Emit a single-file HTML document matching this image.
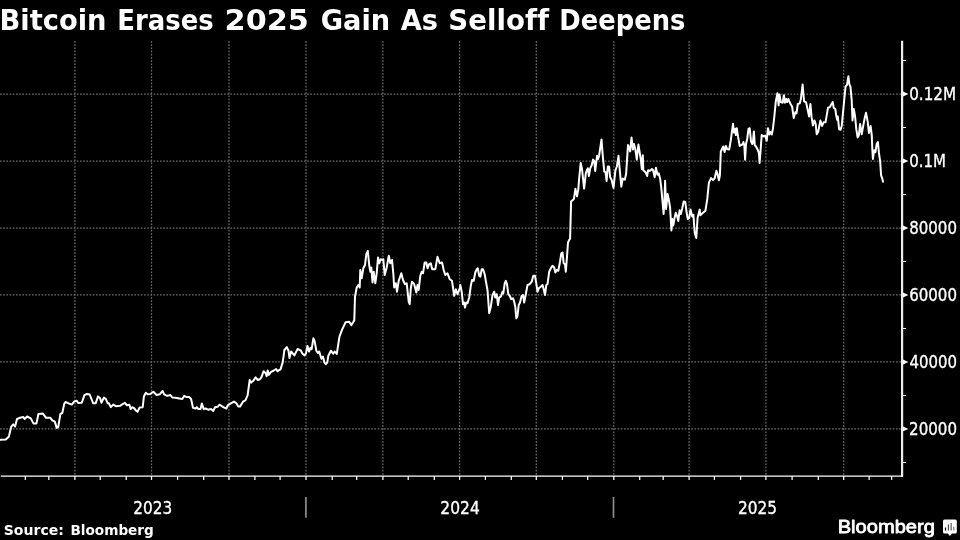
<!DOCTYPE html>
<html lang="en">
<head>
<meta charset="utf-8">
<title>Bitcoin Erases 2025 Gain As Selloff Deepens</title>
<style>
html,body{margin:0;padding:0;background:#000;}
body{width:960px;height:540px;overflow:hidden;}
svg{display:block;font-variant-ligatures:none;font-kerning:none;}
</style>
</head>
<body>
<svg width="960" height="540" viewBox="0 0 960 540">
<rect width="960" height="540" fill="#000"/>
<g stroke="#6c6c6c" stroke-width="1.25" stroke-dasharray="1.7 1.5" fill="none">
<line x1="74.9" y1="41" x2="74.9" y2="476"/>
<line x1="151.5" y1="41" x2="151.5" y2="476"/>
<line x1="229.0" y1="41" x2="229.0" y2="476"/>
<line x1="306.0" y1="41" x2="306.0" y2="476"/>
<line x1="382.9" y1="41" x2="382.9" y2="476"/>
<line x1="459.6" y1="41" x2="459.6" y2="476"/>
<line x1="536.3" y1="41" x2="536.3" y2="476"/>
<line x1="613.8" y1="41" x2="613.8" y2="476"/>
<line x1="689.1" y1="41" x2="689.1" y2="476"/>
<line x1="765.9" y1="41" x2="765.9" y2="476"/>
<line x1="843.7" y1="41" x2="843.7" y2="476"/>
<line x1="0" y1="94.05" x2="902" y2="94.05"/>
<line x1="0" y1="161.03" x2="902" y2="161.03"/>
<line x1="0" y1="228.01" x2="902" y2="228.01"/>
<line x1="0" y1="294.99" x2="902" y2="294.99"/>
<line x1="0" y1="361.97" x2="902" y2="361.97"/>
<line x1="0" y1="428.95" x2="902" y2="428.95"/>
</g>
<g stroke="#fff" fill="none">
<line x1="902.1" y1="40.8" x2="902.1" y2="476.8" stroke-width="2.2" stroke="#ececec"/>
<line x1="0.8" y1="476.2" x2="903" y2="476.2" stroke-width="1.3"/>
<line x1="25.3" y1="476" x2="25.3" y2="479.9" stroke-width="1.25"/>
<line x1="48.8" y1="476" x2="48.8" y2="479.9" stroke-width="1.25"/>
<line x1="74.9" y1="476" x2="74.9" y2="479.9" stroke-width="1.25"/>
<line x1="100.2" y1="476" x2="100.2" y2="479.9" stroke-width="1.25"/>
<line x1="126.2" y1="476" x2="126.2" y2="479.9" stroke-width="1.25"/>
<line x1="151.5" y1="476" x2="151.5" y2="479.9" stroke-width="1.25"/>
<line x1="177.6" y1="476" x2="177.6" y2="479.9" stroke-width="1.25"/>
<line x1="203.7" y1="476" x2="203.7" y2="479.9" stroke-width="1.25"/>
<line x1="229.0" y1="476" x2="229.0" y2="479.9" stroke-width="1.25"/>
<line x1="254.9" y1="476" x2="254.9" y2="479.9" stroke-width="1.25"/>
<line x1="280.1" y1="476" x2="280.1" y2="479.9" stroke-width="1.25"/>
<line x1="306.0" y1="476" x2="306.0" y2="479.9" stroke-width="1.25"/>
<line x1="332.2" y1="476" x2="332.2" y2="479.9" stroke-width="1.25"/>
<line x1="356.7" y1="476" x2="356.7" y2="479.9" stroke-width="1.25"/>
<line x1="382.9" y1="476" x2="382.9" y2="479.9" stroke-width="1.25"/>
<line x1="408.2" y1="476" x2="408.2" y2="479.9" stroke-width="1.25"/>
<line x1="434.3" y1="476" x2="434.3" y2="479.9" stroke-width="1.25"/>
<line x1="459.6" y1="476" x2="459.6" y2="479.9" stroke-width="1.25"/>
<line x1="485.4" y1="476" x2="485.4" y2="479.9" stroke-width="1.25"/>
<line x1="511.3" y1="476" x2="511.3" y2="479.9" stroke-width="1.25"/>
<line x1="536.3" y1="476" x2="536.3" y2="479.9" stroke-width="1.25"/>
<line x1="562.4" y1="476" x2="562.4" y2="479.9" stroke-width="1.25"/>
<line x1="587.7" y1="476" x2="587.7" y2="479.9" stroke-width="1.25"/>
<line x1="613.8" y1="476" x2="613.8" y2="479.9" stroke-width="1.25"/>
<line x1="639.7" y1="476" x2="639.7" y2="479.9" stroke-width="1.25"/>
<line x1="663.2" y1="476" x2="663.2" y2="479.9" stroke-width="1.25"/>
<line x1="689.1" y1="476" x2="689.1" y2="479.9" stroke-width="1.25"/>
<line x1="714.4" y1="476" x2="714.4" y2="479.9" stroke-width="1.25"/>
<line x1="740.6" y1="476" x2="740.6" y2="479.9" stroke-width="1.25"/>
<line x1="765.9" y1="476" x2="765.9" y2="479.9" stroke-width="1.25"/>
<line x1="792.1" y1="476" x2="792.1" y2="479.9" stroke-width="1.25"/>
<line x1="818.3" y1="476" x2="818.3" y2="479.9" stroke-width="1.25"/>
<line x1="843.7" y1="476" x2="843.7" y2="479.9" stroke-width="1.25"/>
<line x1="869.1" y1="476" x2="869.1" y2="479.9" stroke-width="1.25"/>
<line x1="891.6" y1="476" x2="891.6" y2="479.9" stroke-width="1.25"/>
<line x1="903" y1="60.56" x2="906" y2="60.56" stroke-width="1"/>
<line x1="903" y1="127.54" x2="906" y2="127.54" stroke-width="1"/>
<line x1="903" y1="194.52" x2="906" y2="194.52" stroke-width="1"/>
<line x1="903" y1="261.5" x2="906" y2="261.5" stroke-width="1"/>
<line x1="903" y1="328.48" x2="906" y2="328.48" stroke-width="1"/>
<line x1="903" y1="395.46" x2="906" y2="395.46" stroke-width="1"/>
<line x1="903" y1="462.44" x2="906" y2="462.44" stroke-width="1"/>
</g>
<path d="M903,91.6 L908.4,94.05 L903,96.5 Z" fill="#fff"/>
<path d="M903,158.6 L908.4,161.03 L903,163.4 Z" fill="#fff"/>
<path d="M903,225.6 L908.4,228.01 L903,230.4 Z" fill="#fff"/>
<path d="M903,292.6 L908.4,294.99 L903,297.4 Z" fill="#fff"/>
<path d="M903,359.6 L908.4,361.97 L903,364.4 Z" fill="#fff"/>
<path d="M903,426.6 L908.4,428.95 L903,431.3 Z" fill="#fff"/>
<g stroke="#8c8c8c" stroke-width="1.7">
<line x1="305.9" y1="497" x2="305.9" y2="517.8"/>
<line x1="613.5" y1="497" x2="613.5" y2="517.8"/>
</g>
<path d="M0.0,439.8 L5.7,439.4 L8.8,436.7 L11.3,426.6 L13.2,424.3 L15.1,426.6 L17.0,419.0 L20.1,417.8 L23.3,417.1 L24.6,419.0 L27.1,416.5 L30.8,418.4 L33.4,423.4 L36.5,423.4 L38.4,414.0 L42.8,413.4 L46.0,417.8 L50.4,417.8 L52.3,420.3 L54.8,421.6 L56.7,427.9 L58.2,427.2 L60.4,414.0 L62.3,413.0 L64.2,403.9 L65.5,402.0 L68.6,403.3 L71.8,404.6 L74.3,401.4 L76.8,400.8 L78.1,402.9 L81.8,402.7 L84.4,395.1 L86.9,393.9 L89.7,394.5 L93.2,403.3 L95.7,403.3 L98.0,396.4 L100.1,398.3 L101.4,402.7 L103.9,397.6 L105.8,398.9 L107.7,403.3 L108.9,403.3 L110.8,407.1 L113.3,404.6 L115.8,406.2 L120.0,405.8 L122.5,404.1 L125.0,402.8 L126.9,405.3 L129.4,404.7 L130.7,409.1 L132.0,407.2 L134.5,408.5 L135.7,410.4 L137.6,411.6 L139.5,407.6 L142.7,407.2 L143.9,396.5 L145.8,392.7 L147.7,394.3 L150.2,394.0 L153.4,391.7 L156.5,395.0 L159.7,394.3 L162.6,390.9 L164.1,394.3 L167.2,395.9 L170.4,395.0 L172.3,397.5 L175.4,397.8 L179.2,398.4 L182.3,399.0 L184.2,395.9 L186.7,397.1 L189.3,397.1 L191.1,399.0 L193.0,407.9 L195.6,408.5 L196.8,407.2 L198.1,408.9 L200.6,408.9 L201.8,403.4 L203.7,409.1 L205.6,408.5 L208.1,409.7 L211.3,409.1 L213.2,411.0 L215.1,407.2 L217.6,406.8 L219.5,404.7 L223.3,407.2 L226.4,408.5 L227.7,405.3 L230.8,403.4 L234.0,401.6 L236.5,403.4 L238.4,406.6 L240.0,406.6 L243.3,401.3 L245.4,400.3 L247.6,395.3 L249.7,380.0 L251.2,382.6 L253.4,380.7 L255.6,377.3 L257.8,380.0 L260.0,379.2 L261.5,377.1 L263.6,371.2 L265.8,373.4 L266.6,376.3 L267.7,370.5 L268.8,374.9 L271.0,371.9 L273.9,370.5 L276.1,369.0 L277.5,371.2 L280.5,369.4 L282.7,362.4 L284.4,350.0 L286.8,347.1 L288.5,350.7 L289.5,358.0 L291.1,351.5 L294.4,355.4 L297.6,349.0 L301.0,350.7 L302.4,353.6 L304.6,355.4 L306.1,352.9 L307.5,346.0 L309.0,351.5 L310.5,347.8 L311.6,349.3 L313.4,338.3 L314.8,341.9 L316.3,350.7 L317.8,352.9 L319.2,351.5 L321.4,358.8 L322.9,356.6 L324.4,362.4 L325.8,364.2 L327.3,362.4 L328.3,355.8 L330.9,350.7 L333.1,353.6 L334.6,351.5 L336.8,353.9 L339.4,336.8 L341.9,330.2 L345.6,322.2 L349.2,321.8 L351.4,325.1 L353.6,321.5 L354.3,320.0 L355.0,296.7 L356.7,287.5 L358.3,285.0 L359.7,287.5 L360.3,270.0 L361.7,278.3 L363.3,268.3 L365.0,265.0 L366.3,254.2 L367.8,250.8 L369.2,265.0 L370.3,271.7 L371.3,267.5 L372.5,282.5 L373.7,271.7 L375.3,283.3 L376.7,273.3 L378.0,257.5 L379.2,263.3 L380.8,259.2 L382.2,260.0 L383.3,259.2 L384.7,275.0 L386.7,267.5 L388.8,255.8 L390.3,263.3 L392.0,260.0 L393.3,273.3 L394.2,287.5 L395.8,283.3 L397.0,291.7 L398.7,280.8 L401.3,273.3 L403.0,280.0 L405.0,284.2 L406.7,283.3 L408.7,301.7 L409.7,304.2 L410.8,288.3 L412.0,281.7 L414.2,284.2 L416.3,292.5 L417.5,285.0 L418.7,290.0 L420.3,275.8 L421.7,271.7 L423.0,273.3 L424.7,262.5 L426.3,262.5 L427.5,268.3 L429.2,264.2 L430.8,263.3 L432.2,269.2 L435.3,269.2 L437.5,256.7 L439.7,263.3 L442.0,262.5 L443.7,270.0 L445.3,275.0 L447.5,273.3 L449.7,279.2 L452.0,280.8 L454.2,295.8 L455.8,289.2 L457.5,294.2 L460.0,287.5 L460.3,285.0 L461.7,291.7 L463.0,304.2 L464.2,302.5 L465.0,307.5 L466.2,302.5 L467.5,303.3 L469.2,297.5 L470.8,285.8 L472.0,280.0 L473.7,280.8 L475.3,272.5 L476.7,269.2 L477.8,268.3 L479.2,275.8 L480.3,276.7 L481.7,269.2 L483.0,269.2 L484.7,274.2 L485.8,280.8 L487.5,290.0 L489.2,313.3 L490.8,306.7 L492.5,295.0 L494.2,291.7 L495.3,297.5 L496.7,294.2 L498.0,305.0 L499.2,297.5 L500.8,296.7 L502.5,291.7 L503.3,293.3 L504.7,283.3 L505.8,280.8 L507.0,284.2 L508.3,294.2 L509.7,295.8 L511.3,299.2 L513.0,298.3 L514.2,301.7 L515.3,306.7 L516.3,318.3 L517.5,315.8 L518.7,305.0 L520.0,302.5 L521.7,295.8 L523.0,295.0 L524.2,302.5 L525.8,294.2 L527.5,285.0 L529.7,284.2 L531.7,281.7 L533.3,275.8 L535.0,275.8 L536.3,283.3 L537.5,291.7 L538.8,288.3 L540.8,286.7 L542.5,285.0 L543.7,289.2 L545.0,295.0 L546.3,285.0 L547.5,284.2 L549.2,271.7 L550.8,268.3 L552.5,265.8 L554.2,267.5 L555.3,272.5 L556.7,270.0 L558.3,270.8 L560.0,261.7 L561.3,253.3 L562.5,252.5 L563.7,263.3 L565.0,264.2 L565.8,271.7 L567.0,256.7 L568.0,242.5 L569.2,240.0 L570.1,238.6 L571.1,201.4 L573.9,198.9 L575.4,188.8 L577.0,196.4 L578.3,189.4 L579.1,179.1 L580.7,163.0 L582.0,169.0 L584.1,188.6 L585.8,173.4 L587.0,169.7 L587.9,168.4 L588.9,176.0 L590.2,168.4 L591.7,165.3 L593.0,159.6 L594.2,160.9 L595.2,170.9 L597.1,155.8 L598.1,159.0 L599.2,155.2 L601.5,139.4 L602.8,156.4 L604.3,171.6 L605.5,172.2 L606.6,181.0 L607.8,166.5 L609.1,166.5 L610.1,177.2 L611.6,179.7 L613.5,187.9 L615.4,170.3 L616.9,166.5 L618.5,155.8 L619.8,170.3 L621.3,186.7 L622.7,178.5 L624.8,179.7 L626.1,174.1 L628.0,145.1 L629.2,147.6 L630.2,151.4 L631.5,137.6 L633.0,149.5 L634.0,143.9 L635.5,150.1 L636.8,159.6 L638.4,144.5 L639.9,153.9 L640.9,160.2 L641.8,169.0 L642.8,155.2 L643.3,170.3 L645.6,172.2 L647.1,176.0 L648.1,170.3 L650.0,170.9 L651.9,169.0 L653.1,170.3 L654.7,177.2 L655.9,167.8 L657.5,174.7 L658.8,173.4 L660.1,178.5 L661.3,187.9 L662.2,198.0 L663.6,214.0 L664.5,200.2 L665.1,180.7 L666.1,209.0 L667.6,193.9 L668.9,200.2 L670.1,207.7 L671.4,230.4 L672.4,219.1 L673.3,225.4 L674.6,217.8 L675.8,212.8 L677.1,215.9 L678.3,221.0 L679.6,210.3 L680.8,214.0 L682.1,209.0 L683.7,201.4 L685.3,202.1 L686.5,211.5 L687.8,219.1 L689.3,217.8 L690.5,209.6 L692.2,216.6 L693.4,214.7 L694.7,232.9 L696.3,238.0 L697.6,217.8 L699.7,209.6 L700.4,215.3 L702.9,212.8 L705.4,210.9 L707.3,198.9 L708.9,182.6 L711.1,178.1 L713.0,180.0 L714.6,178.4 L716.4,170.8 L717.4,173.5 L718.9,180.3 L719.9,175.4 L720.8,151.5 L723.3,146.5 L724.6,152.1 L725.8,145.9 L727.1,149.0 L729.2,149.6 L730.8,140.2 L733.0,123.8 L734.0,132.6 L735.3,128.9 L735.9,135.1 L736.8,128.2 L738.0,136.4 L739.7,145.9 L742.2,144.6 L743.4,142.1 L744.3,145.2 L745.1,159.7 L746.0,144.0 L747.2,138.9 L748.5,128.9 L749.7,128.2 L751.0,141.4 L752.3,144.0 L752.9,142.7 L753.9,131.4 L754.8,145.2 L756.0,146.5 L757.9,150.3 L758.9,152.8 L759.6,162.9 L760.4,152.8 L761.7,135.1 L763.6,136.4 L765.2,135.8 L766.7,140.8 L768.0,128.2 L769.3,134.5 L770.5,132.0 L771.8,134.5 L773.0,128.2 L774.5,115.0 L775.7,102.1 L777.4,93.3 L778.6,105.3 L779.5,94.6 L780.8,102.1 L782.7,102.7 L783.9,95.2 L784.9,102.7 L786.2,99.0 L787.1,102.1 L788.3,99.0 L790.2,103.4 L792.1,106.5 L793.7,117.9 L795.3,112.2 L796.5,113.4 L797.8,104.0 L799.7,103.4 L800.9,99.0 L802.6,84.5 L803.4,93.9 L804.1,101.5 L806.0,102.1 L807.8,110.3 L809.1,116.6 L810.4,104.0 L811.6,117.2 L812.9,125.4 L814.4,120.4 L815.7,124.1 L816.7,134.2 L818.2,131.7 L819.4,125.4 L820.4,120.4 L822.0,126.0 L823.6,122.3 L825.5,122.3 L826.7,115.3 L828.0,107.8 L829.9,107.1 L831.1,104.6 L832.8,102.1 L833.7,107.8 L835.3,109.0 L836.2,115.3 L837.1,119.7 L837.8,116.6 L839.1,129.2 L840.6,129.8 L841.8,125.4 L843.1,111.6 L844.6,95.8 L845.6,86.4 L846.9,85.1 L848.4,76.3 L849.4,84.5 L850.4,86.4 L851.7,100.2 L852.5,120.4 L853.8,109.0 L855.1,116.6 L856.3,129.2 L857.6,137.4 L858.8,135.5 L860.1,124.1 L861.7,134.2 L863.3,125.4 L864.5,119.1 L866.0,112.8 L867.7,121.6 L868.9,133.0 L870.6,126.0 L871.8,135.5 L872.3,149.0 L872.9,159.0 L874.1,150.2 L875.4,152.1 L876.7,143.9 L877.9,142.0 L878.9,152.7 L880.2,161.6 L881.1,175.4 L882.3,178.6 L883.0,181.7" fill="none" stroke="#fff" stroke-width="2" stroke-linejoin="round" stroke-linecap="round"/>
<text id="title" y="29.6" font-family="'DejaVu Sans', 'Liberation Sans', sans-serif" font-weight="bold" font-size="27.6" fill="#fff"><tspan x="-0.51" textLength="107.04" lengthAdjust="spacingAndGlyphs">Bitcoin</tspan> <tspan x="117.32" textLength="96.41" lengthAdjust="spacingAndGlyphs">Erases</tspan> <tspan x="224.61" textLength="84.21" lengthAdjust="spacingAndGlyphs">2025</tspan> <tspan x="320.64" textLength="69.49" lengthAdjust="spacingAndGlyphs">Gain</tspan> <tspan x="400.67" textLength="37.32" lengthAdjust="spacingAndGlyphs">As</tspan> <tspan x="448.32" textLength="100.64" lengthAdjust="spacingAndGlyphs">Selloff</tspan> <tspan x="559.33" textLength="126.09" lengthAdjust="spacingAndGlyphs">Deepens</tspan></text>
<text x="909.20" y="100.45" textLength="46.99" lengthAdjust="spacingAndGlyphs" font-family="'DejaVu Sans', 'Liberation Sans', sans-serif" font-weight="normal" font-size="18.2" fill="#fff" stroke="#fff" stroke-width="0.35">0.12M</text>
<text x="909.21" y="167.43" textLength="36.86" lengthAdjust="spacingAndGlyphs" font-family="'DejaVu Sans', 'Liberation Sans', sans-serif" font-weight="normal" font-size="18.2" fill="#fff" stroke="#fff" stroke-width="0.35">0.1M</text>
<text x="909.18" y="234.41" textLength="47.82" lengthAdjust="spacingAndGlyphs" font-family="'DejaVu Sans', 'Liberation Sans', sans-serif" font-weight="normal" font-size="18.2" fill="#fff" stroke="#fff" stroke-width="0.35">80000</text>
<text x="909.15" y="301.39" textLength="47.85" lengthAdjust="spacingAndGlyphs" font-family="'DejaVu Sans', 'Liberation Sans', sans-serif" font-weight="normal" font-size="18.2" fill="#fff" stroke="#fff" stroke-width="0.35">60000</text>
<text x="909.47" y="368.37" textLength="47.52" lengthAdjust="spacingAndGlyphs" font-family="'DejaVu Sans', 'Liberation Sans', sans-serif" font-weight="normal" font-size="18.2" fill="#fff" stroke="#fff" stroke-width="0.35">40000</text>
<text x="909.10" y="435.35" textLength="47.90" lengthAdjust="spacingAndGlyphs" font-family="'DejaVu Sans', 'Liberation Sans', sans-serif" font-weight="normal" font-size="18.2" fill="#fff" stroke="#fff" stroke-width="0.35">20000</text>
<text x="133.18" y="513.65" textLength="38.95" lengthAdjust="spacingAndGlyphs" font-family="'DejaVu Sans', 'Liberation Sans', sans-serif" font-weight="normal" font-size="18.3" fill="#fff" stroke="#fff" stroke-width="0.35">2023</text>
<text x="440.37" y="513.65" textLength="39.40" lengthAdjust="spacingAndGlyphs" font-family="'DejaVu Sans', 'Liberation Sans', sans-serif" font-weight="normal" font-size="18.3" fill="#fff" stroke="#fff" stroke-width="0.35">2024</text>
<text x="737.88" y="513.65" textLength="39.07" lengthAdjust="spacingAndGlyphs" font-family="'DejaVu Sans', 'Liberation Sans', sans-serif" font-weight="normal" font-size="18.3" fill="#fff" stroke="#fff" stroke-width="0.35">2025</text>
<text id="source" y="535.0" font-family="'DejaVu Sans', 'Liberation Sans', sans-serif" font-weight="bold" font-size="14.3" fill="#fff"><tspan x="3.69" textLength="60.18" lengthAdjust="spacingAndGlyphs">Source:</tspan> <tspan x="70.45" textLength="83.39" lengthAdjust="spacingAndGlyphs">Bloomberg</tspan></text>
<text x="837.65" y="533.30" textLength="97.25" lengthAdjust="spacingAndGlyphs" font-family="'Liberation Sans', 'DejaVu Sans', sans-serif" font-weight="normal" font-size="18.6" fill="#fff" stroke="#fff" stroke-width="0.8" stroke-linejoin="round">Bloomberg</text>
<g id="icon"><path d="M944.6,519.5 h10.6 a1.6,1.6 0 0 1 1.6,1.6 v10.8 a1.6,1.6 0 0 1 -1.6,1.6 h-3.3 l-2,2.6 l-2,-2.6 h-3.3 a1.6,1.6 0 0 1 -1.6,-1.6 v-10.8 a1.6,1.6 0 0 1 1.6,-1.6 z" fill="#fff"/>
<g stroke-width="1.2"><line x1="945.5" y1="527.5" x2="945.5" y2="530.6" stroke="#000"/><line x1="948.4" y1="524.6" x2="948.4" y2="530.6" stroke="#555"/><line x1="951.1" y1="523" x2="951.1" y2="530.6" stroke="#555"/><line x1="953.8" y1="526.8" x2="953.8" y2="530.6" stroke="#777"/></g></g>
</svg>
</body>
</html>
